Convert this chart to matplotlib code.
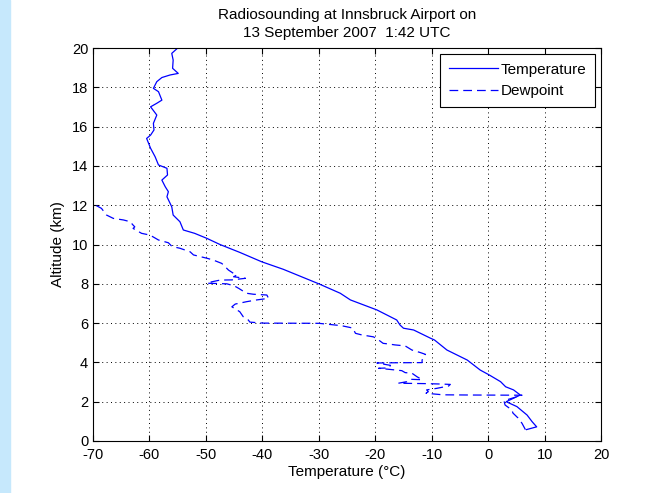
import matplotlib as mpl
mpl.use('Agg')
import matplotlib.pyplot as plt
import numpy as np

# Temperature profile (deg C vs km)
temp_alt = [0.58, 0.72, 0.98, 1.32, 1.75, 2.00, 2.34, 2.60, 2.76, 3.02, 3.36, 3.61,
            4.12, 4.63, 5.14, 5.23, 5.65, 5.74, 5.90, 6.16, 6.67, 7.18, 7.52, 8.00,
            8.74, 9.12, 9.60, 10.00, 10.31, 10.57, 10.74, 11.16, 11.50, 11.92, 12.43,
            12.69, 12.94, 13.28, 13.54, 13.88, 14.05, 14.47, 14.90, 15.40, 15.57,
            15.83, 16.17, 16.59, 17.01, 17.19, 17.35, 17.78, 17.95, 18.29, 18.50,
            18.63, 18.71, 18.97, 19.39, 19.73, 19.95]
temp_c = [6.8, 8.6, 7.8, 6.9, 5.1, 3.2, 5.7, 4.5, 3.1, 2.2, 0.2, -1.4,
          -3.7, -7.3, -9.5, -10.2, -13.2, -15.0, -15.6, -16.2, -19.7, -24.4, -26.2, -30.0,
          -36.3, -40.1, -44.0, -47.5, -49.8, -52.0, -54.0, -54.6, -55.8, -56.05, -56.9,
          -56.65, -57.2, -57.8, -56.8, -56.9, -58.4, -59.0, -59.8, -60.5, -59.8,
          -59.2, -59.3, -58.7, -59.8, -58.7, -57.8, -58.4, -59.3, -58.7, -57.8,
          -56.35, -54.9, -55.9, -55.8, -56.05, -55.2]

# Dewpoint profile
dew_alt = [0.58, 0.90, 1.17, 1.42, 1.58, 1.83, 2.05, 2.20, 2.33, 2.34, 2.35, 2.43,
           2.51, 2.60, 2.68, 2.80, 2.88, 2.90, 2.92, 2.94, 3.02, 3.14, 3.12, 3.27,
           3.45, 3.48, 3.58, 3.64, 3.70, 3.72, 3.85, 3.97, 3.98, 3.99, 4.12, 4.29,
           4.41, 4.50, 4.63, 4.84, 4.89, 4.94, 4.97, 5.14, 5.30, 5.40, 5.48, 5.75,
           5.87, 5.99, 6.00, 6.05, 6.16, 6.33, 6.58, 6.83, 6.97, 7.09, 7.18, 7.26,
           7.43, 7.47, 7.52, 7.77, 7.90, 8.00, 8.03, 8.10, 8.19, 8.20, 8.28, 8.36,
           8.45, 8.53, 8.70, 8.96, 9.04, 9.21, 9.30, 9.47, 9.63, 9.81, 9.90, 10.09,
           10.23, 10.48, 10.57, 10.82, 10.90, 11.02, 11.16, 11.25, 11.33, 11.50,
           11.84, 12.01, 12.15]
dew_c = [6.6, 6.0, 5.3, 4.4, 4.2, 3.0, 2.8, 4.5, 6.0, -3.2, -8.0, -11.0,
         -10.6, -10.9, -9.1, -7.0, -6.7, -8.5, -11.1, -15.9, -14.4, -13.8, -11.7, -12.6,
         -13.5, -14.7, -15.3, -17.3, -19.4, -17.6, -17.3, -19.7, -17.3, -11.7, -11.7, -11.4,
         -11.1, -12.0, -13.5, -14.7, -16.5, -17.7, -18.6, -19.4, -20.3, -22.4, -23.5, -24.0,
         -26.0, -30.0, -39.8, -42.2, -42.5, -43.4, -44.0, -45.4, -44.8, -42.8, -41.0, -38.9,
         -39.2, -41.6, -42.8, -44.2, -45.0, -46.3, -49.8, -49.0, -47.5, -45.4, -43.0, -45.1,
         -44.5, -45.1, -46.0, -46.9, -47.2, -48.7, -49.8, -52.2, -52.8, -54.6, -56.0, -56.65,
         -58.4, -59.9, -61.4, -62.9, -62.6, -63.0, -63.4, -64.6, -66.4, -67.6,
         -68.5, -69.6, -71.5]

xticks = np.arange(-70, 21, 10)
yticks = np.arange(0, 21, 2)

plt.rcParams['font.family'] = ['Liberation Sans', 'DejaVu Sans']
plt.rcParams['font.size'] = 11
plt.rcParams['axes.unicode_minus'] = False

fig = plt.figure(figsize=(6.55, 4.93), dpi=100)
# light blue strip of the page on the left
fig.patches.append(plt.Rectangle((0, 0), 0.016, 1, transform=fig.transFigure,
                                 color='#c6e8fc', zorder=-1))
ax = fig.add_axes([0.142, 0.1055, 0.7756, 0.797])

ax.plot(temp_c, temp_alt, color='#0000ff', lw=0.9, label='Temperature')
ax.plot(dew_c, dew_alt, color='#0000ff', lw=0.9, dashes=(7, 4), label='Dewpoint')

ax.set_xlim(-70, 20)
ax.set_ylim(0, 20)
ax.set_xticks(xticks)
ax.set_yticks(yticks)
ax.grid(True, color='black', linestyle=(0, (1, 3.5)), lw=0.7)
ax.tick_params(direction='in', top=True, right=True, length=4, width=0.8, labelsize=10.5)
ax.tick_params(axis='x', pad=5)
for s in ax.spines.values():
    s.set_linewidth(0.8)

ax.set_xlabel('Temperature (°C)', labelpad=2)
ax.set_ylabel('Altitude (km)', labelpad=5)
ax.set_title('Radiosounding at Innsbruck Airport on\n13 September 2007  1:42 UTC',
             fontsize=11, pad=8, linespacing=1.35)

leg = ax.legend(loc='upper right', handlelength=3.2, fancybox=False, framealpha=1,
                edgecolor='black', borderaxespad=0.4, fontsize=11, handletextpad=0.2,
                borderpad=0.55)
leg.get_frame().set_linewidth(0.8)

fig.savefig('out.png', dpi=100)
